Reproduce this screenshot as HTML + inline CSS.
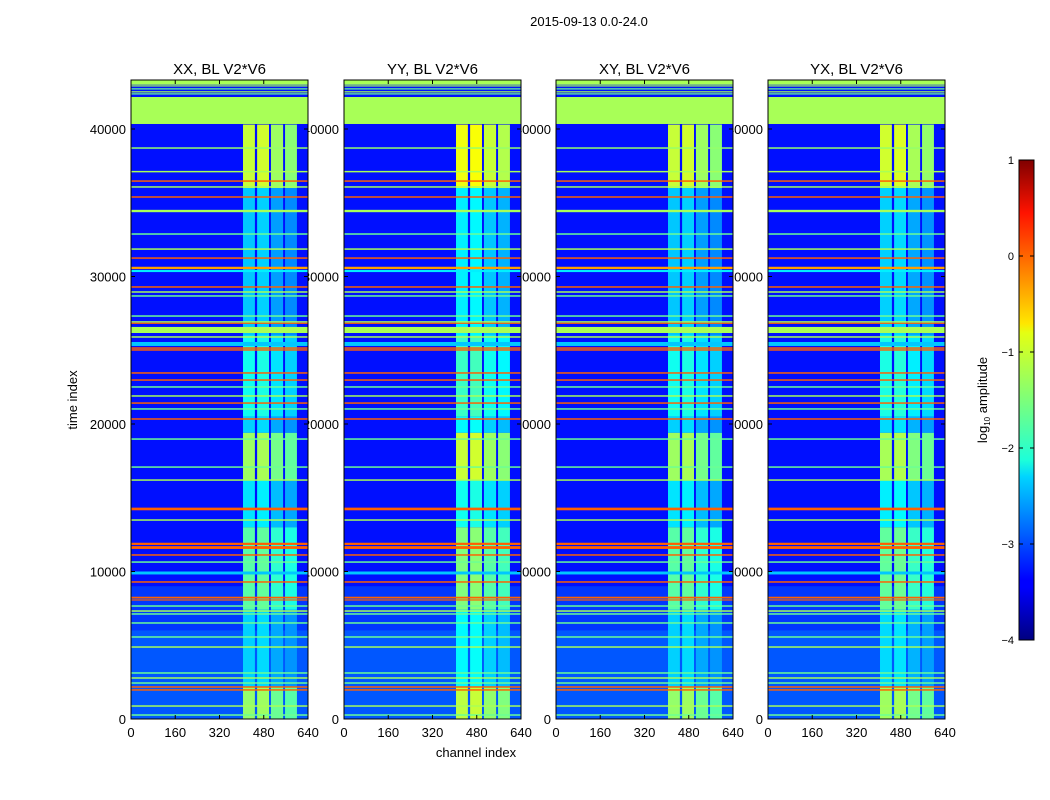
<!DOCTYPE html>
<html><head><meta charset="utf-8"><style>
body{margin:0;background:#fff;}
svg{display:block;font-family:"Liberation Sans",sans-serif;}
</style></head><body>
<svg id="fig" width="1050" height="800" viewBox="0 0 1050 800">
<defs>
<linearGradient id="jet" x1="0" y1="1" x2="0" y2="0">
<stop offset="0" stop-color="#000080"/><stop offset="0.11" stop-color="#0000ff"/>
<stop offset="0.125" stop-color="#0000ff"/><stop offset="0.34" stop-color="#00d4ff"/>
<stop offset="0.375" stop-color="#1dffd9"/><stop offset="0.5" stop-color="#7dff7a"/>
<stop offset="0.64" stop-color="#e4ff13"/><stop offset="0.66" stop-color="#ffe600"/>
<stop offset="0.89" stop-color="#ff1300"/><stop offset="1" stop-color="#800000"/>
</linearGradient>
</defs>
<text x="589" y="26" font-size="13" text-anchor="middle">2015-09-13 0.0-24.0</text>
<g id="labels"></g>
<g id="panels"></g>
<text x="476" y="757" font-size="13" text-anchor="middle">channel index</text>
<text transform="translate(77,400) rotate(-90)" font-size="13" text-anchor="middle">time index</text>
<g id="cbar">
<rect x="1019" y="160" width="15" height="480" fill="url(#jet)" stroke="#000" stroke-width="1"/>
</g>
<text transform="translate(987,400) rotate(-90)" font-size="13" text-anchor="middle">log<tspan font-size="8" dy="3">10</tspan><tspan dy="-3"> amplitude</tspan></text>
</svg>
<script>
const panelTitles = ["XX, BL V2*V6","YY, BL V2*V6","XY, BL V2*V6","YX, BL V2*V6"];
const panelBoost = [0, 0.2, 0, 0.05];
const xTicks = [0,160,320,480,640];
const yTicks = [0,10000,20000,30000,40000];
const cbTicks = [1,0,-1,-2,-3,-4];
// background regions [tStart, tEnd, level]
const bgRegions = [[0,43300,-3.3],[6000,9000,-3.1],[0,6000,-2.95]];
// bright channel strips [chStart, chEnd, boost]
const strips = [[405,448,0.2],[456,499,0.25],[506,550,0.0],[557,600,-0.1]];
// strip time segments [tStart, tEnd, level]
const stripSegs = [[36000,40300,-1.35],[26000,36000,-2.6],[20500,26000,-2.25],[19400,20500,-2.55],
 [16200,19400,-1.55],[13000,16200,-2.45],[7400,13000,-1.9],[2200,7400,-2.55],[0,2200,-1.6]];
// horizontal bands [tStart, tEnd, level]
const bands = [[43000,43300,-1.3],[42880,42960,-1.3],[42680,42760,-1.6],[42480,42560,-1.3],[42360,42420,-1.6],
 [40340,42170,-1.3],[38660,38760,-1.4],[37060,37160,-1.3],[36420,36520,-0.1],[36020,36120,-1.3],
 [35340,35440,-0.1],[34360,34520,-1.3],[32830,32930,-1.6],[31810,31910,-1.3],[31200,31300,-0.1],
 [30500,30660,-0.4],[30300,30440,-2.2],[29240,29340,-0.1],[28900,29000,-1.3],[28630,28730,-1.6],
 [27270,27370,-1.6],[26880,26970,-1.3],[26800,26870,-0.1],[26170,26580,-1.3],[25850,25950,-1.3],
 [25290,25560,-2.4],[25100,25200,-0.1],[24970,25070,-0.1],[23410,23510,-0.1],[22930,23030,-0.1],
 [22460,22560,-1.6],[21850,21950,-1.3],[21370,21470,-0.1],[20970,21070,-1.6],[20290,20390,-0.1],
 [18930,19030,-1.6],[17030,17130,-1.6],[16150,16250,-1.3],[14150,14330,-0.1],[13440,13540,-1.3],
 [11800,11950,-0.1],[11530,11720,-0.1],[11070,11170,-0.1],[10590,10690,-1.6],[9800,10000,-2.4],
 [9240,9340,-0.1],[8170,8290,-0.1],[8030,8110,-0.1],[7610,7710,-1.6],[7270,7370,-1.3],
 [7070,7170,-1.6],[6460,6560,-1.6],[5510,5610,-1.6],[4830,4930,-1.3],[3070,3170,-1.6],
 [2730,2830,-1.3],[2390,2490,-1.6],[2120,2220,-0.1],[1920,2020,-0.1],[830,930,-1.3],[220,320,-1.6]];
const panelX = [131,344,556,768];
const PW = 177, Y0 = 719;

function jet(v){ // v in [-4,1]
  let x = Math.max(0, Math.min(1, (v + 4) / 5));
  const c = t => Math.round(255 * Math.max(0, Math.min(1, t)));
  return `rgb(${c(1.5-Math.abs(4*x-3))},${c(1.5-Math.abs(4*x-2))},${c(1.5-Math.abs(4*x-1))})`;
}
const ys = t => Y0 - t * 0.01475;
const ns = "http://www.w3.org/2000/svg";
function mk(tag, attrs, parent){ const e = document.createElementNS(ns, tag); for (const k in attrs) e.setAttribute(k, attrs[k]); parent.appendChild(e); return e; }

const labels = document.getElementById('labels');
const panels = document.getElementById('panels');
panelX.forEach((px, p) => {
  const xs = ch => px + ch / 640 * PW;
  yTicks.forEach(t => {
    const tl = mk('text', {x: px - 5, y: ys(t) + 5, 'font-size': 13, 'text-anchor': 'end'}, labels);
    
    
    tl.textContent = t;
  });
  const g = mk('g', {}, panels);
  
  
  bgRegions.forEach(r => {
    const e = mk('rect', {x: px, y: ys(r[1]), width: PW, height: ys(r[0]) - ys(r[1]), fill: jet(r[2])}, g);
    
    
  });
  strips.forEach(s => {
    stripSegs.forEach(seg => {
      const e = mk('rect', {x: xs(s[0]), y: ys(seg[1]), width: xs(s[1]) - xs(s[0]), height: ys(seg[0]) - ys(seg[1]), fill: jet(seg[2] + s[2] + panelBoost[p])}, g);
      
      
    });
  });
  bands.forEach(b => {
    const e = mk('rect', {x: px, y: ys(b[1]), width: PW, height: Math.max(1.2, ys(b[0]) - ys(b[1])), fill: jet(b[2])}, g);
    
    
  });
  const fr = mk('rect', {x: px, y: 80, width: PW, height: Y0 - 80, fill: 'none', stroke: '#000', 'stroke-width': 1}, g);
  
  
  xTicks.forEach(c => {
    mk('line', {x1: xs(c), x2: xs(c), y1: Y0, y2: Y0 - 4, stroke: '#000'}, g);
    mk('line', {x1: xs(c), x2: xs(c), y1: 80, y2: 84, stroke: '#000'}, g);
    const tl = mk('text', {x: xs(c), y: 737, 'font-size': 13, 'text-anchor': 'middle'}, g);
    
    
    tl.textContent = c;
  });
  yTicks.forEach(t => {
    mk('line', {x1: px, x2: px + 4, y1: ys(t), y2: ys(t), stroke: '#000'}, g);
    mk('line', {x1: px + PW, x2: px + PW - 4, y1: ys(t), y2: ys(t), stroke: '#000'}, g);
  });
  const tt = mk('text', {x: px + PW / 2, y: 74, 'font-size': 15, 'text-anchor': 'middle'}, g);
  
  
  tt.textContent = panelTitles[p];
});
const cb = document.getElementById('cbar');
cbTicks.forEach(v => {
  const y = 160 + (1 - v) * 96;
  mk('line', {x1: 1019, x2: 1023, y1: y, y2: y, stroke: '#000'}, cb);
  mk('line', {x1: 1034, x2: 1030, y1: y, y2: y, stroke: '#000'}, cb);
  const tl = mk('text', {x: 1014, y: y + 4, 'font-size': 11, 'text-anchor': 'end'}, cb);
  
  
  tl.textContent = v < 0 ? '\u2212' + (-v) : String(v);
});
</script>
</body></html>
